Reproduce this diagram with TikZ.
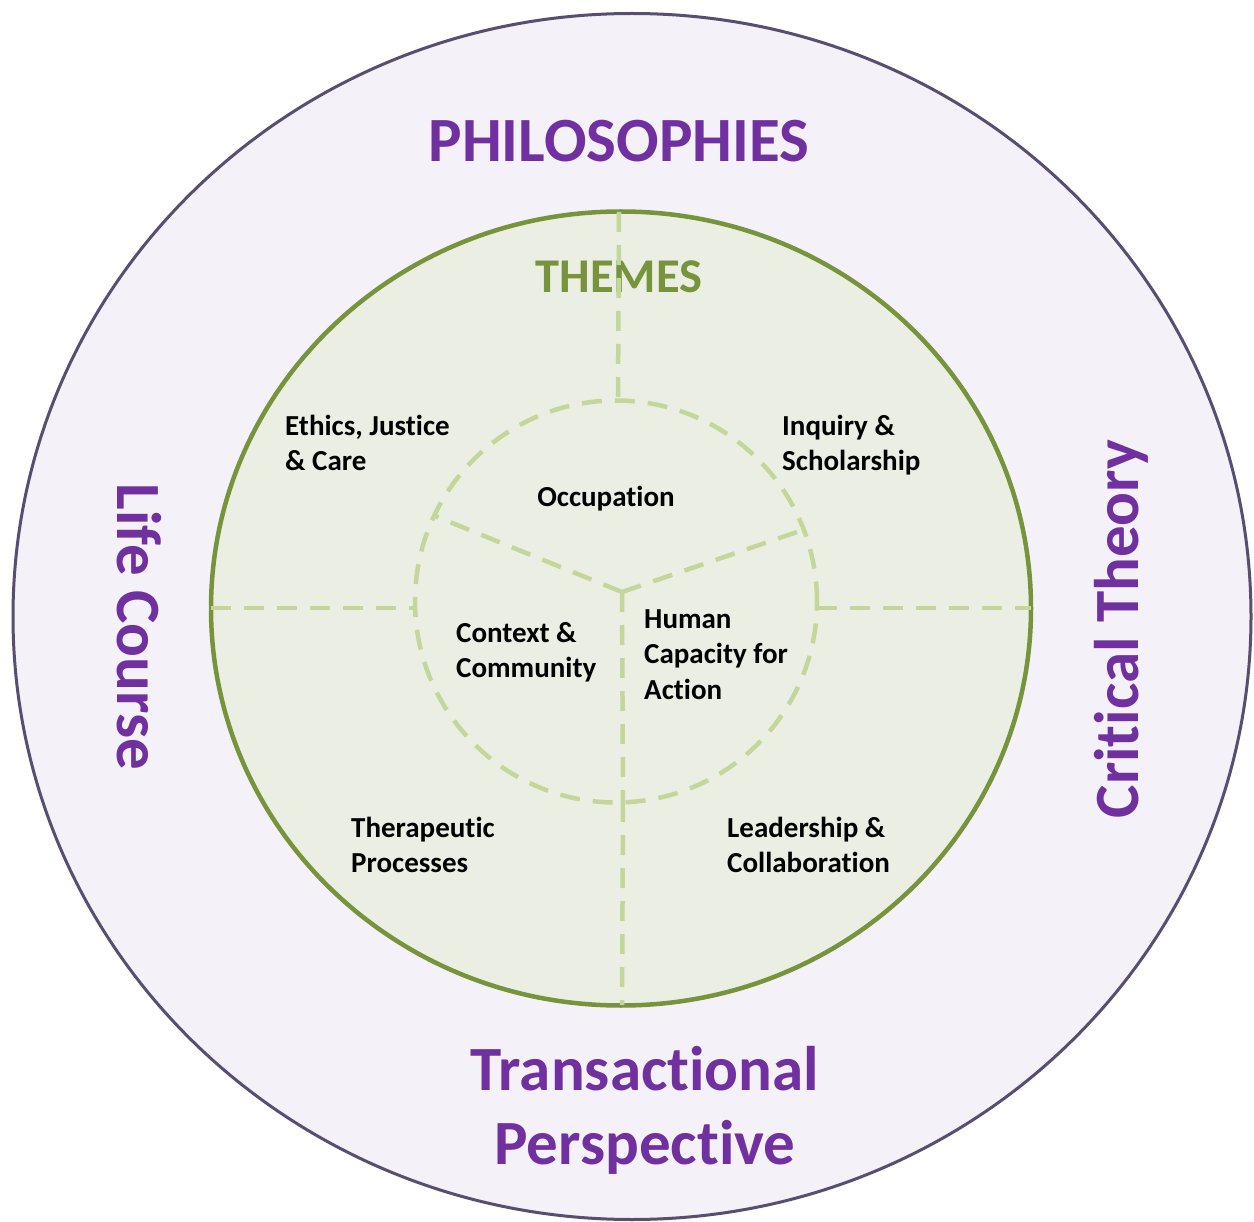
\documentclass[tikz,border=0pt]{standalone}
\usepackage{fontspec}
\setmainfont{Carlito}[Ligatures={NoCommon,NoRare,NoContextual}]
\definecolor{outerfill}{RGB}{244,241,248}
\definecolor{outerline}{RGB}{88,78,112}
\definecolor{greenfill}{RGB}{235,239,227}
\definecolor{greenline}{RGB}{119,147,60}
\definecolor{dashgreen}{RGB}{196,214,155}
\definecolor{purp}{RGB}{112,48,160}
\tikzset{
  bigtext/.style={font=\fontsize{63}{75}\selectfont\bfseries, text=purp, inner sep=0pt},
  themetext/.style={font=\fontsize{48.5}{58}\selectfont\bfseries, text=greenline, inner sep=0pt},
  smalltext/.style={font=\fontsize{29}{35}\selectfont\bfseries, text=black, inner sep=0pt, anchor=base west},
  midtext/.style={font=\fontsize{29}{35}\selectfont\bfseries, text=black, inner sep=0pt, anchor=base},
  divider/.style={draw=dashgreen, line width=4.5pt, dash pattern=on 20pt off 13pt}
}
\begin{document}
\begin{tikzpicture}[x=1pt,y=-1pt]
\useasboundingbox (0,0) rectangle (1254,1222);
\fill[white] (0,0) rectangle (1254,1222);
% outer ring
\filldraw[fill=outerfill, draw=outerline, line width=3pt] (632,616.5) ellipse [x radius=619pt, y radius=603pt];
% green circle
\filldraw[fill=greenfill, draw=greenline, line width=4.5pt] (621,608.5) ellipse [x radius=410pt, y radius=397pt];
% THEMES
\node[themetext, anchor=base] (themes) at (619,293) {THEMES};
% coordinates
\coordinate (c) at (622,592);
\coordinate (it) at (618,401);
\coordinate (ib) at (623,802);
\coordinate (il) at (415,608);
\coordinate (ir) at (817,608);
\coordinate (gt) at (619,212);
\coordinate (gb) at (622,1005);
\coordinate (gl) at (211,608);
\coordinate (gr) at (1031,608);
\coordinate (sl) at (435,516);
\coordinate (sr) at (803,530);
% dashed dividers
\draw[divider] (gt) -- (it);
\draw[divider] (ib) -- (gb);
\draw[divider] (gl) -- (il);
\draw[divider] (ir) -- (gr);
\draw[divider] (616,601.5) circle [radius=201pt];
\draw[divider] (c) -- (sl);
\draw[divider] (c) -- (sr);
\draw[divider] (c) -- (ib);
% big labels
\node[bigtext, anchor=base] (phil) at (619,162) {PHILOSOPHIES};
\node[bigtext, anchor=base] (trans) at (645,1090) {Transactional};
\node[bigtext, anchor=base] (persp) at (645,1164) {Perspective};
\node[bigtext, anchor=base, rotate=-90] (life) at (117,627) {Life Course};
\node[bigtext, anchor=base, rotate=90] (crit) at (1138,629) {Critical Theory};
% theme labels
\node[smalltext] (eth1) at (285,436) {Ethics, Justice};
\node[smalltext] (eth2) at (285,471) {\& Care};
\node[smalltext] (inq1) at (782,436) {Inquiry \&};
\node[smalltext] (inq2) at (782,471) {Scholarship};
\node[midtext] (occ) at (606,507) {Occupation};
\node[smalltext] (ctx1) at (456,642) {Context \&};
\node[smalltext] (ctx2) at (456,677) {Community};
\node[smalltext] (hum1) at (644,628) {Human};
\node[smalltext] (hum2) at (644,663) {Capacity for};
\node[smalltext] (hum3) at (644,699) {Action};
\node[smalltext] (ther1) at (351,837) {Therapeutic};
\node[smalltext] (ther2) at (351,872) {Processes};
\node[smalltext] (lead1) at (727,837) {Leadership \&};
\node[smalltext] (lead2) at (727,872) {Collaboration};
\end{tikzpicture}
\end{document}
